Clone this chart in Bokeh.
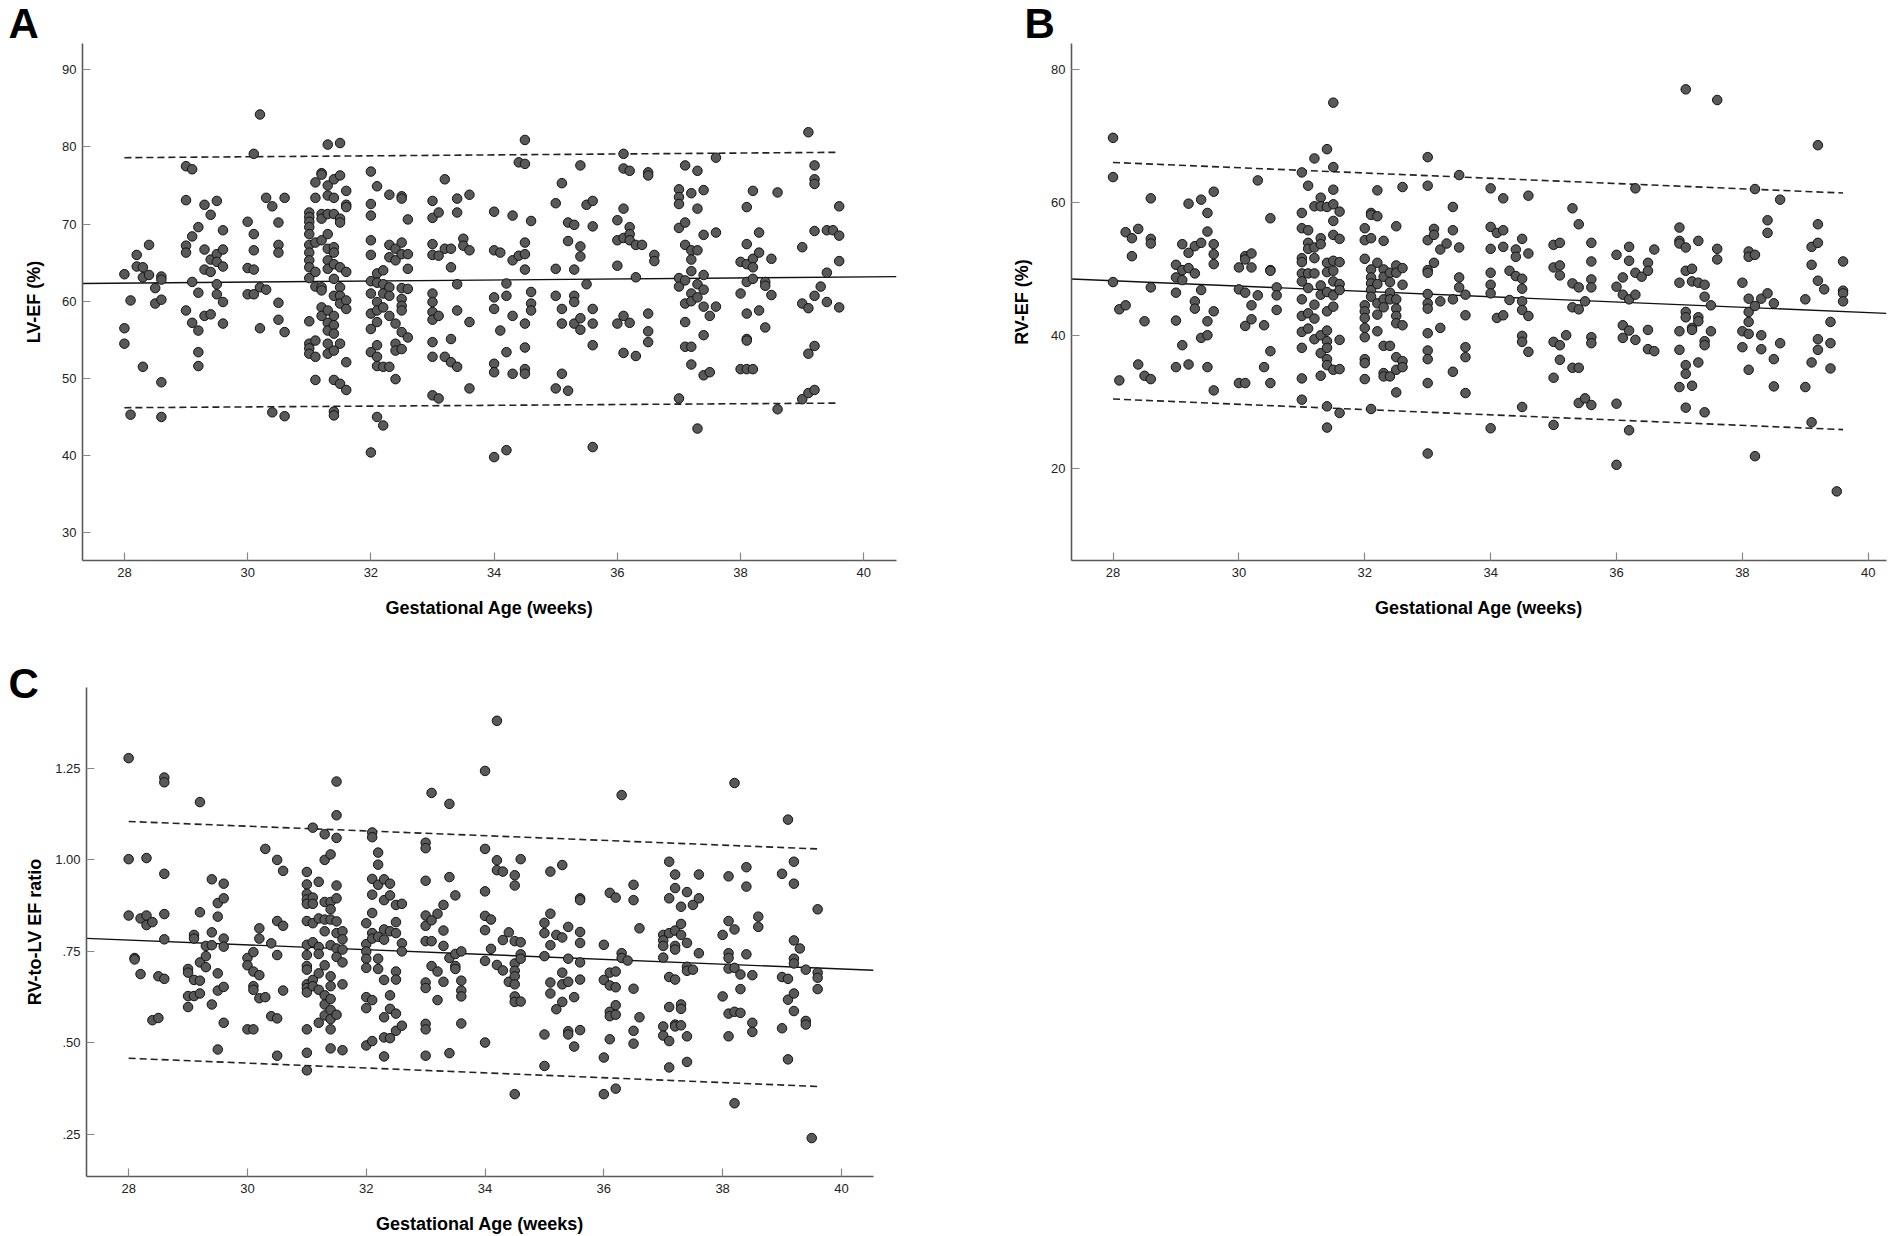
from bokeh.plotting import figure
from bokeh.models import FixedTicker, Range1d
from bokeh.layouts import column, row
from bokeh.embed import file_html
from bokeh.resources import INLINE

# tick values / labels
age_ticks = [28, 30, 32, 34, 36, 38, 40]
lv_ticks = [30, 40, 50, 60, 70, 80, 90]
rv_ticks = [20, 40, 60, 80]
ratio_ticks = [0.25, 0.5, 0.75, 1.0, 1.25]
ratio_tick_labels = [".25", ".50", ".75", "1.00", "1.25"]

# scatter data: (gestational age in weeks, [values at that age])
lv_columns = [
    (28.0, [63.5, 56.5, 54.5]), (28.1, [60.1, 45.3]), (28.2, [66.0, 64.5]),
    (28.3, [64.4, 63.1, 51.5]), (28.4, [67.3, 63.4]), (28.5, [61.7, 59.7]),
    (28.6, [63.2, 62.8, 60.2, 49.5, 45.0]),
    (29.0, [77.5, 73.1, 67.2, 66.3, 58.8]), (29.1, [77.1, 68.4, 62.5, 57.2]),
    (29.2, [69.6, 61.1, 56.2, 53.4, 51.6]), (29.3, [72.5, 66.7, 64.1, 58.1]),
    (29.4, [71.2, 65.4, 63.8, 58.3]), (29.5, [73.0, 66.1, 65.1, 62.2, 60.9]),
    (29.6, [69.2, 66.7, 64.5, 59.9, 57.1]),
    (30.0, [70.3, 64.3, 60.9]), (30.1, [79.1, 68.7, 66.6, 64.1, 60.9]),
    (30.2, [84.2, 61.8, 56.5]), (30.3, [73.4, 61.5]), (30.4, [72.3, 45.6]),
    (30.5, [70.2, 67.3, 66.3, 59.8, 57.6]), (30.6, [73.4, 56.0, 45.1]),
    (31.0, [71.5, 70.9, 70.3, 69.6, 68.7, 67.3, 66.3, 65.3, 64.4, 63.0, 57.4, 54.5, 53.9, 53.2]),
    (31.1, [75.4, 73.4, 67.6, 63.8, 61.9, 54.9, 52.8, 49.8]),
    (31.2, [76.6, 76.4, 71.3, 70.7, 67.9, 61.8, 61.4, 59.2, 58.1]),
    (31.3, [80.3, 75.0, 73.7, 71.3, 68.7, 66.8, 65.3, 64.2, 58.8, 57.2, 56.2, 54.5, 53.2]),
    (31.4, [75.8, 73.4, 71.3, 67.0, 66.3, 64.8, 62.9, 60.7, 58.1, 56.9, 55.8, 53.6, 49.8, 45.7, 45.2]),
    (31.5, [80.5, 76.3, 70.7, 70.2, 64.4, 61.8, 60.7, 59.7, 54.5, 49.3]),
    (31.6, [74.3, 72.5, 72.2, 63.8, 60.1, 59.0, 52.1, 48.5]),
    (32.0, [76.8, 72.6, 71.1, 67.9, 66.0, 62.6, 61.0, 58.4, 56.4, 53.4, 40.4]),
    (32.1, [74.9, 63.6, 62.4, 59.9, 58.8, 57.3, 54.3, 52.8, 51.6, 45.0]),
    (32.2, [64.0, 62.2, 61.0, 59.2, 51.5, 43.9]),
    (32.3, [73.8, 67.3, 65.7, 61.8, 60.7, 58.1, 51.5]),
    (32.4, [66.8, 65.3, 57.1, 54.5, 53.6, 49.9]),
    (32.5, [73.6, 73.3, 67.6, 66.1, 61.7, 60.3, 59.4, 58.8, 56.0, 53.8]),
    (32.6, [70.6, 66.1, 64.2, 61.6, 55.3]),
    (33.0, [73.0, 70.8, 67.4, 66.0, 61.0, 59.9, 58.6, 57.6, 54.7, 52.8, 47.8]),
    (33.1, [71.5, 65.9, 58.1, 47.4]), (33.2, [75.8, 66.8, 52.8]),
    (33.3, [66.8, 64.4, 55.1, 52.1]), (33.4, [73.3, 71.5, 62.2, 58.8, 51.5]),
    (33.5, [68.1, 67.2]), (33.6, [73.8, 66.6, 57.3, 48.7]),
    (34.0, [71.6, 66.6, 60.5, 59.0, 51.9, 50.8, 39.8]), (34.1, [66.3, 56.2]),
    (34.2, [62.3, 60.7, 53.4, 40.7]), (34.3, [71.1, 65.3, 58.1, 50.6]),
    (34.4, [78.0, 65.9]),
    (34.5, [80.9, 77.8, 67.6, 66.1, 64.1, 57.1, 54.0, 51.2, 50.6]),
    (34.6, [70.4, 61.2, 59.7, 58.8]),
    (35.0, [72.7, 64.2, 60.7, 48.7]), (35.1, [75.3, 59.0, 57.1, 50.6]),
    (35.2, [70.2, 67.8, 48.4]), (35.3, [69.9, 64.1, 60.7, 59.9, 57.1]),
    (35.4, [77.6, 67.1, 65.8, 57.8, 56.3]), (35.5, [72.5, 62.2]),
    (35.6, [73.0, 69.7, 59.0, 57.1, 54.3, 41.1]),
    (36.0, [70.5, 67.9, 64.6, 57.1]), (36.1, [79.1, 77.2, 72.0, 68.2, 58.1, 53.3]),
    (36.2, [76.9, 69.6, 68.7, 67.9, 57.2]), (36.3, [67.3, 63.1, 52.9]),
    (36.4, [67.3]), (36.5, [76.7, 76.3, 58.4, 56.1, 54.7]), (36.6, [66.0, 65.2]),
    (37.0, [74.5, 73.5, 72.6, 69.5, 63.0, 61.9, 47.4]),
    (37.1, [77.6, 70.2, 67.3, 62.7, 59.7, 57.3, 54.1]),
    (37.2, [74.0, 66.6, 65.4, 63.9, 61.0, 60.0, 54.1, 51.8]),
    (37.3, [76.9, 72.0, 66.6, 62.2, 60.5, 43.5]),
    (37.4, [74.4, 68.6, 63.4, 61.5, 59.3, 55.6, 50.4]),
    (37.5, [58.1, 50.8]), (37.6, [78.6, 68.9, 59.3]),
    (38.0, [65.1, 61.0, 51.2]),
    (38.1, [72.2, 67.4, 64.8, 62.5, 58.4, 55.1, 54.9, 51.2]),
    (38.2, [74.3, 65.5, 64.4, 62.9, 51.2]), (38.3, [68.9, 66.3, 58.8]),
    (38.4, [62.5, 62.0, 56.6]), (38.5, [65.5, 60.8]), (38.6, [74.1, 46.0]),
    (39.0, [67.0, 59.7, 47.3]), (39.1, [81.9, 59.1, 53.2, 48.1]),
    (39.2, [77.6, 75.8, 75.2, 69.1, 60.7, 54.2, 48.5]), (39.3, [61.9]),
    (39.4, [69.2, 63.7, 59.9]), (39.5, [69.2]), (39.6, [72.3, 68.5, 65.2, 59.2]),
]

rv_columns = [
    (28.0, [69.7, 63.8, 48.0]), (28.1, [43.9, 33.2]), (28.2, [55.5, 44.5]),
    (28.3, [54.6, 51.9]), (28.4, [56.0, 35.6]), (28.5, [42.1, 33.9]),
    (28.6, [60.6, 54.5, 53.8, 47.2, 33.4]),
    (29.0, [50.6, 48.7, 46.4, 42.2, 35.2]), (29.1, [53.7, 49.8, 48.3, 38.5]),
    (29.2, [59.8, 52.4, 50.1, 35.6]), (29.3, [53.4, 49.3, 45.1, 44.0]),
    (29.4, [60.4, 53.9, 46.8, 39.6]), (29.5, [58.4, 55.6, 42.1, 40.0, 35.2]),
    (29.6, [61.6, 53.7, 52.2, 50.7, 43.6, 31.7]),
    (30.0, [50.2, 46.9, 32.8]), (30.1, [51.9, 51.4, 46.4, 41.4, 32.8]),
    (30.2, [52.3, 50.2, 44.5, 42.4]), (30.3, [63.3, 46.0]), (30.4, [41.5, 35.2]),
    (30.5, [57.6, 49.8, 49.7, 37.6, 32.8]), (30.6, [47.2, 46.0, 43.8]),
    (31.0, [64.5, 58.4, 56.1, 51.6, 51.0, 49.3, 48.1, 45.4, 42.9, 40.5, 38.1, 33.5, 30.3]),
    (31.1, [62.5, 55.8, 53.9, 53.0, 49.3, 47.1, 43.3, 41.0]),
    (31.2, [66.6, 59.4, 53.2, 51.6, 49.3, 44.6, 42.5, 39.4]),
    (31.3, [60.7, 59.4, 54.6, 53.7, 47.5, 46.1, 40.0, 37.3, 33.9]),
    (31.4, [68.0, 59.3, 50.9, 49.5, 46.5, 43.6, 40.7, 39.1, 38.1, 36.4, 35.5, 29.3, 26.1]),
    (31.5, [75.0, 65.3, 61.9, 59.7, 57.2, 55.1, 51.2, 49.7, 48.1, 46.0, 44.3, 34.8]),
    (31.6, [58.6, 54.5, 51.0, 47.7, 46.8, 39.3, 34.9, 28.3]),
    (32.0, [56.1, 54.3, 51.5, 44.5, 43.6, 42.6, 41.1, 39.7, 36.4, 35.8, 33.4]),
    (32.1, [58.4, 58.1, 54.6, 49.9, 48.7, 47.8, 46.8, 45.8, 28.9]),
    (32.2, [61.8, 57.9, 50.9, 47.7, 44.8, 43.1, 40.6]),
    (32.3, [54.2, 49.9, 48.8, 45.4, 44.2, 38.4, 34.3, 33.8]),
    (32.4, [49.4, 48.0, 46.4, 45.4, 38.4, 33.8]),
    (32.5, [56.4, 50.5, 49.4, 45.4, 44.0, 42.9, 41.8, 36.7, 34.8, 31.4]),
    (32.6, [62.3, 50.1, 47.6, 41.5, 36.1, 35.2]),
    (33.0, [66.8, 62.5, 54.3, 49.8, 49.4, 46.2, 44.8, 44.0, 40.3, 37.7, 36.4, 32.8, 22.2]),
    (33.1, [56.0, 55.1, 50.9]), (33.2, [52.9, 45.1, 41.1]), (33.3, [53.8]),
    (33.4, [59.3, 55.8, 45.4, 34.5]), (33.5, [64.1, 53.2, 48.7, 47.2]),
    (33.6, [46.1, 43.0, 38.2, 36.7, 31.3]),
    (34.0, [62.1, 56.3, 53.0, 49.4, 47.6, 46.3, 26.0]), (34.1, [55.4, 42.6]),
    (34.2, [60.6, 55.8, 53.3, 43.0]), (34.3, [49.7, 45.3]), (34.4, [52.9, 51.8, 48.9]),
    (34.5, [54.5, 48.5, 47.0, 45.1, 43.8, 39.9, 39.0, 29.2]),
    (34.6, [61.0, 52.3, 42.9, 37.5]),
    (35.0, [53.6, 50.2, 39.0, 33.6, 26.5]), (35.1, [53.9, 50.5, 49.0, 38.5, 36.3]),
    (35.2, [40.0]), (35.3, [59.1, 47.8, 44.2, 35.1]),
    (35.4, [56.7, 47.2, 43.9, 35.1, 29.8]), (35.5, [45.1, 30.5]),
    (35.6, [53.9, 51.1, 48.4, 47.2, 39.7, 38.8, 29.5]),
    (36.0, [52.1, 47.3, 29.7, 20.5]), (36.1, [48.7, 46.1, 41.5, 39.6]),
    (36.2, [53.3, 51.2, 45.4, 40.7, 25.7]), (36.3, [62.1, 49.4, 46.1, 39.3]),
    (36.4, [48.8]), (36.5, [50.9, 49.7, 40.8, 37.9]), (36.6, [52.9, 37.6]),
    (37.0, [56.2, 54.2, 53.8, 47.9, 40.6, 37.8, 32.2]),
    (37.1, [77.0, 53.2, 49.7, 43.5, 42.7, 35.5, 34.2, 29.1]),
    (37.2, [50.0, 48.1, 41.1, 40.8, 32.4]), (37.3, [54.2, 47.9, 42.7, 42.1, 35.9]),
    (37.4, [47.6, 45.8, 39.1, 38.5, 28.4]), (37.5, [44.5, 40.6]),
    (37.6, [75.4, 53.0, 51.4]),
    (38.0, [47.9, 40.6, 38.2]), (38.1, [52.6, 51.8, 45.5, 43.5, 42.0, 40.2, 34.8]),
    (38.2, [62.0, 52.1, 44.4, 21.8]), (38.3, [45.5, 40.0, 37.9]),
    (38.4, [57.3, 55.4, 46.3]), (38.5, [44.8, 36.4, 32.3]), (38.6, [60.4, 38.8]),
    (39.0, [45.4, 32.2]), (39.1, [53.3, 50.6, 35.9, 26.9]),
    (39.2, [68.6, 56.7, 53.9, 48.2, 39.4, 37.8]), (39.3, [46.9]),
    (39.4, [42.0, 38.8, 35.0]), (39.5, [16.5]), (39.6, [51.1, 46.7, 46.3, 45.1]),
]

ratio_columns = [
    (28.0, [1.278, 1.002, 0.848]), (28.1, [0.732, 0.728]), (28.2, [0.840, 0.688]),
    (28.3, [1.005, 0.848, 0.822]), (28.4, [0.830, 0.562]), (28.5, [0.682, 0.568]),
    (28.6, [1.225, 1.212, 0.962, 0.852, 0.783, 0.675]),
    (29.0, [0.702, 0.692, 0.628, 0.598]), (29.1, [0.795, 0.785, 0.672, 0.628]),
    (29.2, [1.158, 0.857, 0.720, 0.670, 0.635]), (29.3, [0.765, 0.737, 0.707]),
    (29.4, [0.947, 0.802, 0.767, 0.605]), (29.5, [0.882, 0.845, 0.690, 0.643, 0.482]),
    (29.6, [0.935, 0.895, 0.785, 0.763, 0.653, 0.555]),
    (30.0, [0.732, 0.712, 0.537]), (30.1, [0.748, 0.695, 0.655, 0.645, 0.537]),
    (30.2, [0.813, 0.785, 0.685, 0.622]), (30.3, [1.030, 0.625]), (30.4, [0.772, 0.573]),
    (30.5, [1.000, 0.833, 0.740, 0.567, 0.465]), (30.6, [0.970, 0.820, 0.643]),
    (31.0, [0.967, 0.933, 0.907, 0.892, 0.880, 0.833, 0.768, 0.740, 0.710, 0.700,
            0.660, 0.650, 0.638, 0.537, 0.473, 0.425]),
    (31.1, [1.088, 0.897, 0.880, 0.827, 0.775, 0.672, 0.655]),
    (31.2, [0.940, 0.840, 0.762, 0.743, 0.690, 0.645, 0.555]),
    (31.3, [1.070, 1.000, 0.885, 0.837, 0.805, 0.712, 0.630, 0.605, 0.575]),
    (31.4, [1.015, 0.885, 0.865, 0.837, 0.767, 0.682, 0.655, 0.620, 0.590, 0.565, 0.537, 0.485]),
    (31.5, [1.214, 1.122, 1.060, 0.930, 0.895, 0.832, 0.800, 0.758, 0.735, 0.577]),
    (31.6, [0.805, 0.783, 0.755, 0.720, 0.660, 0.480]),
    (32.0, [0.827, 0.770, 0.750, 0.730, 0.705, 0.625, 0.595, 0.493]),
    (32.1, [1.075, 1.062, 0.948, 0.905, 0.855, 0.800, 0.785, 0.617, 0.505]),
    (32.2, [1.020, 0.987, 0.932, 0.790, 0.730, 0.702]),
    (32.3, [0.947, 0.890, 0.810, 0.782, 0.672, 0.570, 0.515, 0.463]),
    (32.4, [0.935, 0.903, 0.805, 0.630, 0.593, 0.513]),
    (32.5, [0.877, 0.830, 0.800, 0.695, 0.673, 0.580, 0.533]),
    (32.6, [0.880, 0.772, 0.750, 0.547]),
    (33.0, [1.047, 1.032, 0.943, 0.848, 0.820, 0.778, 0.665, 0.650, 0.552, 0.537, 0.465]),
    (33.1, [1.183, 0.835, 0.778, 0.710]), (33.2, [0.853, 0.695, 0.617]),
    (33.3, [0.877, 0.807, 0.765, 0.667]), (33.4, [1.153, 0.953, 0.732, 0.472]),
    (33.5, [0.903, 0.743, 0.710, 0.702]), (33.6, [0.750, 0.670, 0.643, 0.627, 0.553]),
    (34.0, [1.243, 1.030, 0.914, 0.847, 0.808, 0.724, 0.501]), (34.1, [0.837, 0.757]),
    (34.2, [1.380, 0.999, 0.972, 0.713]), (34.3, [0.968, 0.781, 0.698]),
    (34.4, [0.802, 0.667]),
    (34.5, [0.958, 0.930, 0.778, 0.717, 0.697, 0.682, 0.660, 0.627, 0.612, 0.360]),
    (34.6, [1.002, 0.775, 0.742, 0.730, 0.613]),
    (35.0, [0.828, 0.800, 0.737, 0.523, 0.437]), (35.1, [0.968, 0.853, 0.767, 0.665, 0.635]),
    (35.2, [0.795, 0.592]), (35.3, [0.986, 0.788, 0.692, 0.660, 0.612]),
    (35.4, [0.817, 0.730, 0.667, 0.532, 0.523]), (35.5, [0.625, 0.490]),
    (35.6, [0.895, 0.890, 0.803, 0.773, 0.720, 0.673, 0.535]),
    (36.0, [0.768, 0.672, 0.460, 0.360]), (36.1, [0.910, 0.692, 0.657, 0.585, 0.573, 0.510]),
    (36.2, [0.897, 0.695, 0.652, 0.603, 0.577, 0.375]), (36.3, [1.177, 0.745, 0.732]),
    (36.4, [0.725]), (36.5, [0.932, 0.890, 0.648, 0.533, 0.498]), (36.6, [0.813, 0.570]),
    (37.0, [0.795, 0.780, 0.765, 0.733, 0.545, 0.520]),
    (37.1, [0.995, 0.895, 0.800, 0.680, 0.598, 0.505, 0.433]),
    (37.2, [0.960, 0.923, 0.807, 0.765, 0.755, 0.673, 0.550, 0.545]),
    (37.3, [0.872, 0.825, 0.795, 0.605, 0.593, 0.548]),
    (37.4, [0.912, 0.773, 0.708, 0.697, 0.518, 0.448]), (37.5, [0.877, 0.700]),
    (37.6, [0.960, 0.895, 0.745]),
    (38.0, [0.795, 0.627]), (38.1, [0.955, 0.833, 0.745, 0.732, 0.703, 0.580, 0.518]),
    (38.2, [1.210, 0.810, 0.705, 0.585, 0.335]), (38.3, [0.687, 0.647, 0.582]),
    (38.4, [0.980, 0.927, 0.742]), (38.5, [0.685, 0.555, 0.530]), (38.6, [0.845, 0.817]),
    (39.0, [0.962, 0.680, 0.540]), (39.1, [1.110, 0.675, 0.618, 0.455]),
    (39.2, [0.995, 0.935, 0.780, 0.730, 0.717, 0.635, 0.587]), (39.3, [0.758]),
    (39.4, [0.700, 0.560, 0.550]), (39.5, [0.240]), (39.6, [0.865, 0.692, 0.678, 0.647]),
]

# regression fit at fit_weeks, prediction band at band_weeks
fit_weeks = [28, 40]
band_weeks = [28, 39.6]
lv_fit, lv_upper, lv_lower = [62.35, 63.15], [78.6, 79.3], [46.2, 46.8]
rv_fit, rv_upper, rv_lower = [48.2, 43.4], [66.0, 61.4], [30.4, 25.8]
ratio_fit, ratio_upper, ratio_lower = [0.781, 0.702], [1.105, 1.030], [0.458, 0.381]

FONT = "Liberation Sans"


def make_panel(letter, columns, fit, upper, lower, y_label, x_lim, y_lim, y_ticks,
               size, borders, label_standoff, letter_offset, letter_standoff,
               label_overrides=None):
    xs = [w for w, vals in columns for _ in vals]
    ys = [v for _, vals in columns for v in vals]

    p = figure(width=size[0], height=size[1],
               x_range=Range1d(*x_lim), y_range=Range1d(*y_lim),
               output_backend="svg", toolbar_location=None, tools="",
               min_border_left=borders[0], min_border_right=borders[1],
               min_border_top=borders[2], min_border_bottom=borders[3])
    p.outline_line_color = None
    p.grid.visible = False
    p.background_fill_color = "white"
    p.border_fill_color = "white"

    # panel letter as a title, pulled left over the axis area (a negative
    # standoff lets it sit lower, next to the top of the axis)
    p.title.text = letter
    p.title.align = "left"
    p.title.offset = letter_offset
    p.title.standoff = letter_standoff
    p.title.text_font = FONT
    p.title.text_font_size = "42px"
    p.title.text_font_style = "bold"
    p.title.text_color = "black"

    # fit line across the whole axis
    slope = (fit[1] - fit[0]) / (fit_weeks[1] - fit_weeks[0])
    x0, x1 = x_lim
    p.line([x0, x1], [fit[0] + slope * (x0 - fit_weeks[0]), fit[0] + slope * (x1 - fit_weeks[0])],
           line_color="#111111", line_width=1.4)
    for band in (upper, lower):
        p.line(band_weeks, band, line_color="#222222", line_width=1.6, line_dash="7 4")

    p.scatter(xs, ys, size=9.5, marker="circle", fill_color="#595959",
              line_color="#111111", line_width=1)

    p.xaxis.ticker = FixedTicker(ticks=age_ticks, minor_ticks=[])
    p.yaxis.ticker = FixedTicker(ticks=y_ticks, minor_ticks=[])
    if label_overrides:
        p.yaxis.major_label_overrides = label_overrides
    for ax in (p.xaxis, p.yaxis):
        ax.axis_line_color = "#5a5a5a"
        ax.axis_line_width = 1.6
        ax.major_tick_line_color = "#888888"
        ax.major_tick_line_width = 1.2
        ax.major_tick_in = 8
        ax.major_tick_out = 0
        ax.minor_tick_in = 0
        ax.minor_tick_out = 0
        ax.major_label_text_font = FONT
        ax.major_label_text_font_size = "13px"
        ax.major_label_text_color = "#222222"
        ax.axis_label_text_font = FONT
        ax.axis_label_text_font_size = "18px"
        ax.axis_label_text_font_style = "bold"
        ax.axis_label_text_color = "black"
    p.xaxis.major_label_standoff = 7
    p.xaxis.axis_label_standoff = 18
    p.xaxis.axis_label = "Gestational Age (weeks)"
    p.yaxis.major_label_standoff = 6
    p.yaxis.axis_label_standoff = label_standoff
    p.yaxis.axis_label = y_label
    return p


pa = make_panel("A", lv_columns, lv_fit, lv_upper, lv_lower, "LV-EF (%)",
                (27.32, 40.53), (26.4, 93.4), lv_ticks,
                (1001, 657), (82, 105, 43, 97), 15, -74, -6)
pb = make_panel("B", rv_columns, rv_fit, rv_upper, rv_lower, "RV-EF (%)",
                (27.34, 40.29), (6.1, 83.9), rv_ticks,
                (891, 657), (70, 6, 43, 97), 16, -47, -6)
pc = make_panel("C", ratio_columns, ratio_fit, ratio_upper, ratio_lower, "RV-to-LV EF ratio",
                (27.29, 40.54), (0.135, 1.471), ratio_ticks,
                (882, 579), (86, 9, 30, 60), 7, -78, -38,
                label_overrides=dict(zip(ratio_ticks, ratio_tick_labels)))

layout = column(row(pa, pb), pc)
open("out.html", "w").write(file_html(layout, INLINE))
